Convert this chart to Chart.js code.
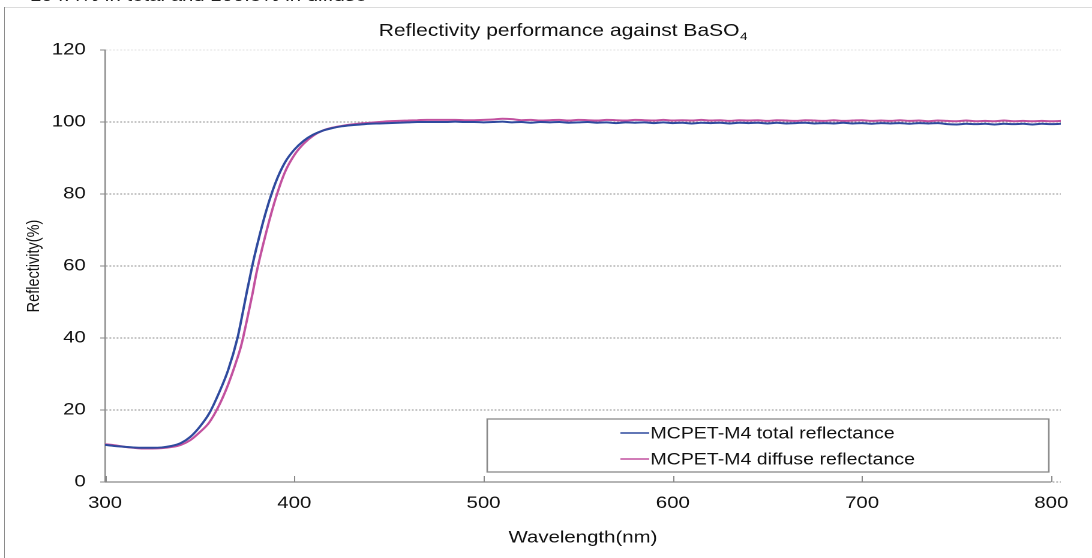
<!DOCTYPE html>
<html>
<head>
<meta charset="utf-8">
<script src="https://cdn.jsdelivr.net/npm/chart.js@4"></script>
<style>
  html, body { margin: 0; padding: 0; background: #fff; overflow: hidden; }
  #page { position: relative; width: 1092px; height: 558px; overflow: hidden; }
  /* the source picture is stretched ~1.2x horizontally, so draw narrow and stretch */
  #stretch { position: absolute; left: 0; top: 0; width: 910px; height: 558px; transform: scaleX(1.2); transform-origin: 0 0; }
  #chart { position: absolute; left: 0; top: 0; width: 910px; height: 558px; }
  #cutText { position: absolute; left: 25px; top: -14px; font: 17px "Liberation Sans", Arial, sans-serif; color: #222; white-space: nowrap; }
  #frameLeft { position: absolute; left: 4px; top: 7px; width: 1px; height: 560px; background: #8a8a8a; }
  #frameTop { position: absolute; left: 4px; top: 7px; width: 1100px; height: 1px; background: #dcdcdc; }
</style>
</head>
<body>
<div id="page">
  <div id="frameTop"></div>
  <div id="frameLeft"></div>
  <div id="stretch">
    <div id="cutText">104.4% in total and 100.5% in diffuse</div>
    <canvas id="chart" width="910" height="558"></canvas>
  </div>
</div>
<script>
const wavelengths = [
  300, 305, 310, 315, 320, 325, 330, 335, 340, 345, 350, 355, 360, 365, 370, 372, 375, 378,
  380, 385, 390, 395, 400, 405, 410, 415, 420, 425, 430, 435, 440, 445, 450, 455, 460, 465,
  470, 475, 480, 485, 490, 495,
  500, 505, 510, 515, 520, 525, 530, 535, 540, 545, 550, 555, 560, 565, 570, 575, 580, 585,
  590, 595, 600, 605, 610, 615, 620, 625, 630, 635, 640, 645, 650, 655, 660, 665, 670, 675,
  680, 685, 690, 695, 700, 705, 710, 715, 720, 725, 730, 735, 740, 745, 750, 755, 760, 765,
  770, 775, 780, 785, 790, 795, 800, 805
];
const totalReflectance = [
  10.3, 10.0, 9.8, 9.6, 9.5, 9.5, 9.6, 10.0, 10.8, 12.5, 15.3, 19.0, 24.5, 31.0, 40.0, 45.0, 53.0, 60.5,
  65.0, 75.0, 83.0, 88.7, 92.3, 94.8, 96.5, 97.6, 98.3, 98.8, 99.1, 99.3, 99.5, 99.6, 99.7, 99.8, 99.9, 100.0,
  100.0, 100.0, 100.0, 100.1, 100.0, 100.0,
  99.9, 100.0, 100.1, 99.9, 100.0, 99.8, 100.0, 99.9, 100.0, 99.8,
  99.9, 100.0, 99.8, 99.9, 99.7, 99.9, 99.8, 99.9, 99.7, 99.9,
  99.7, 99.8, 99.6, 99.8, 99.7, 99.8, 99.6, 99.8, 99.7, 99.8,
  99.6, 99.8, 99.6, 99.7, 99.8, 99.6, 99.7, 99.6, 99.8, 99.6,
  99.7, 99.5, 99.7, 99.6, 99.7, 99.5, 99.7, 99.6, 99.7, 99.4,
  99.3, 99.5, 99.4, 99.5, 99.3, 99.5, 99.4, 99.5, 99.3, 99.5,
  99.4, 99.5
];
const diffuseReflectance = [
  10.5, 10.2, 9.8, 9.5, 9.3, 9.3, 9.4, 9.7, 10.3, 11.6, 13.8, 16.5, 21.0, 27.0, 34.5, 38.0, 45.0, 52.5,
  58.0, 69.0, 78.5, 86.0, 90.8, 94.0, 96.2, 97.6, 98.4, 98.9, 99.3, 99.6, 99.8, 100.0, 100.2, 100.3, 100.4, 100.5,
  100.6, 100.6, 100.6, 100.6, 100.5, 100.5,
  100.6, 100.7, 100.9, 100.8, 100.5, 100.6, 100.4, 100.5, 100.6, 100.4,
  100.6, 100.5, 100.4, 100.6, 100.5, 100.4, 100.6, 100.5, 100.4, 100.6,
  100.4, 100.5, 100.4, 100.6, 100.4, 100.5, 100.3, 100.5, 100.4, 100.5,
  100.3, 100.5, 100.4, 100.3, 100.5, 100.4, 100.3, 100.5, 100.3, 100.4,
  100.5, 100.3, 100.4, 100.3, 100.5, 100.3, 100.4, 100.2, 100.4, 100.3,
  100.2, 100.4, 100.2, 100.3, 100.2, 100.4, 100.2, 100.3, 100.2, 100.3,
  100.2, 100.3
];
const seriesLabels = ['MCPET-M4 total reflectance', 'MCPET-M4 diffuse reflectance'];
const yTicks = [0, 20, 40, 60, 80, 100, 120];
const xTicks = [300, 400, 500, 600, 700, 800];

const FONT = '"Liberation Sans", Arial, sans-serif';
Chart.defaults.font.family = FONT;
Chart.defaults.color = '#111';

function pts(values) {
  return wavelengths.map((w, i) => ({ x: w, y: values[i] }));
}

// title with a real subscript 4
const titlePlugin = {
  id: 'titlePlugin',
  afterDraw(chart) {
    const ctx = chart.ctx;
    ctx.save();
    ctx.fillStyle = '#111';
    ctx.textBaseline = 'alphabetic';
    ctx.font = '17.5px ' + FONT;
    const main = 'Reflectivity performance against BaSO';
    const w1 = ctx.measureText(main).width;
    ctx.font = '11px ' + FONT;
    const w2 = ctx.measureText('4').width;
    const x0 = 469 - (w1 + w2) / 2;
    ctx.font = '17.5px ' + FONT;
    ctx.fillText(main, x0, 36);
    ctx.font = '11px ' + FONT;
    ctx.fillText('4', x0 + w1 + 0.5, 40);
    ctx.restore();
  }
};

// x axis line from 300 to 800 only, with small ticks pointing up into the plot
const xAxisLine = {
  id: 'xAxisLine',
  afterDatasetsDraw(chart) {
    const sx = chart.scales.x;
    const bottom = chart.chartArea.bottom;
    const ctx = chart.ctx;
    const x0 = sx.getPixelForValue(xTicks[0]);
    const x1 = sx.getPixelForValue(xTicks[xTicks.length - 1]);
    ctx.save();
    ctx.strokeStyle = '#888';
    ctx.lineWidth = 1.2;
    ctx.beginPath();
    ctx.moveTo(x0, bottom);
    ctx.lineTo(x1, bottom);
    ctx.stroke();
    ctx.lineWidth = 1;
    xTicks.forEach(v => {
      const px = Math.round(sx.getPixelForValue(v)) + 0.5;
      ctx.beginPath();
      ctx.moveTo(px, bottom);
      ctx.lineTo(px, bottom - 6);
      ctx.stroke();
    });
    ctx.restore();
  }
};

// boxed legend inside the plot
const boxLegend = {
  id: 'boxLegend',
  afterDraw(chart) {
    const ctx = chart.ctx;
    ctx.save();
    ctx.fillStyle = '#fff';
    ctx.fillRect(406, 419, 468, 53);
    ctx.strokeStyle = '#8a8a8a';
    ctx.lineWidth = 1.3;
    ctx.strokeRect(406, 419, 468, 53);
    ctx.font = '16.3px ' + FONT;
    ctx.textBaseline = 'middle';
    chart.data.datasets.forEach((ds, i) => {
      const y = 433 + i * 26;
      ctx.strokeStyle = ds.borderColor;
      ctx.lineWidth = 1.5;
      ctx.beginPath();
      ctx.moveTo(517, y);
      ctx.lineTo(541, y);
      ctx.stroke();
      ctx.fillStyle = '#111';
      ctx.fillText(ds.label, 542, y + 1);
    });
    ctx.restore();
  }
};

new Chart(document.getElementById('chart'), {
  type: 'line',
  data: {
    datasets: [
      {
        label: seriesLabels[0],
        data: pts(totalReflectance),
        borderColor: '#2f4a9e',
        borderWidth: 2,
        pointRadius: 0,
        cubicInterpolationMode: 'monotone'
      },
      {
        label: seriesLabels[1],
        data: pts(diffuseReflectance),
        borderColor: '#c2519f',
        borderWidth: 2,
        pointRadius: 0,
        cubicInterpolationMode: 'monotone'
      }
    ]
  },
  options: {
    responsive: false,
    animation: false,
    devicePixelRatio: 2,
    layout: { padding: { left: 0, right: 26, top: 50, bottom: 0 } },
    plugins: {
      legend: { display: false },
      title: { display: false },
      tooltip: { enabled: false }
    },
    scales: {
      x: {
        type: 'linear',
        min: 300,
        max: 805,
        afterBuildTicks: s => { s.ticks = xTicks.map(v => ({ value: v })); },
        ticks: { padding: 11, maxRotation: 0, font: { size: 17 } },
        grid: { drawOnChartArea: false, drawTicks: false },
        border: { display: false },
        title: { display: true, text: 'Wavelength(nm)', font: { size: 17 }, padding: { top: 0, bottom: 10 } },
        afterFit: s => { s.height = 76; }
      },
      y: {
        min: 0,
        max: 120,
        afterBuildTicks: s => { s.ticks = yTicks.map(v => ({ value: v })); },
        ticks: { padding: 12, font: { size: 17 } },
        grid: {
          color: c => (c.tick && c.tick.value === 120) ? '#e0e0e0' : '#8f8f8f',
          lineWidth: 1,
          drawTicks: true,
          tickLength: 4,
          tickColor: '#888',
          tickBorderDash: []
        },
        border: { color: '#888', width: 1.2, dash: [1.5, 1.5] },
        title: { display: true, text: 'Reflectivity(%)', font: { size: 14.5 }, padding: { top: 20, bottom: 0 } },
        afterFit: s => { s.width = 87.5; }
      }
    }
  },
  plugins: [titlePlugin, xAxisLine, boxLegend]
});
</script>
</body>
</html>
